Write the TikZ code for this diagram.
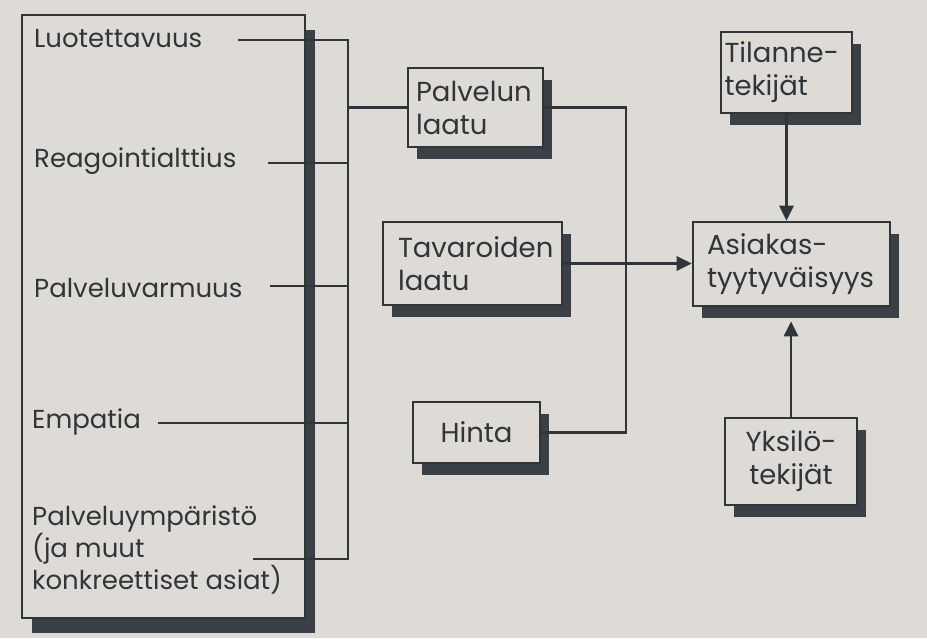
\documentclass[tikz,border=0pt]{standalone}
\usepackage{fontspec}
\setmainfont{Poppins}
\usetikzlibrary{arrows.meta,shadows,calc}
\definecolor{paper}{HTML}{DEDBD6}
\definecolor{ink}{HTML}{30353A}
\definecolor{shade}{HTML}{3A4046}
\begin{document}
\begin{tikzpicture}[x=1pt,y=-1pt,
  boxbase/.style={draw=ink, line width=2.6pt, fill=paper, text=ink,
    font=\fontsize{27.5}{33}\selectfont, inner sep=0pt},
  box/.style={boxbase, drop shadow={shadow xshift=9pt, shadow yshift=-12pt, fill=shade, opacity=1}},
  bigbox/.style={boxbase, drop shadow={shadow xshift=10pt, shadow yshift=-15pt, fill=shade, opacity=1}},
  lab/.style={anchor=west, text=ink, font=\fontsize{26}{28}\selectfont, inner sep=0pt, align=left},
  conn/.style={draw=ink, line width=2.8pt},
  arr/.style={conn, -{Triangle[length=15pt,width=14pt]}}]
\fill[paper] (0,0) rectangle (927,638);
\useasboundingbox (0,0) rectangle (927,638);

% big frame
\node[bigbox, minimum width=283pt, minimum height=603pt] (frame) at (163.5,316.5) {};

% labels
\node[lab] (l1) at (34,39) {Luotettavuus};
\node[lab] (l2) at (34,161) {Reagointialttius};
\node[lab] (l3) at (34,288) {Palveluvarmuus};
\node[lab] (l4) at (32,422) {Empatia};
\node[lab] (l5) at (32,550) {Palveluympäristö\\(ja muut\\konkreettiset asiat)};

% boxes
\node[box, text width=119pt, inner xsep=8pt, minimum height=79pt, align=left] (pal) at (475.5,107.5) {Palvelun\\laatu};
\node[box, text width=149pt, inner xsep=15pt, minimum height=83pt, align=left] (tav) at (472.5,263.5) {Tavaroiden\\laatu};
\node[box, minimum width=127pt, minimum height=61pt, align=center] (hin) at (476.5,432.5) {Hinta};
\node[box, text width=169pt, inner xsep=14pt, minimum height=84pt, align=left] (asi) at (791.5,264) {Asiakas-\\tyytyväisyys};
\node[box, text width=124pt, inner xsep=3.5pt, minimum height=81pt, align=left] (til) at (786.5,72.5) {Tilanne-\\tekijät};
\node[box, text width=132pt, minimum height=87pt, align=center] (yks) at (791,461.5) {Yksilö-\\tekijät};

% connector coordinates
\coordinate (s1) at (238,40);
\coordinate (s2) at (268,163);
\coordinate (s3) at (270,286);
\coordinate (s4) at (158,423);
\coordinate (s5) at (253,559);
\coordinate (b1) at (348,40);
\coordinate (b5) at (348,559);
\coordinate (rb) at (626,0);

\draw[conn] (s1) -- (b1) -- (b5) -- (s5);
\draw[conn] (s2) -- (s2 -| b1);
\draw[conn] (s3) -- (s3 -| b1);
\draw[conn] (s4) -- (s4 -| b1);
\draw[conn] (pal.west -| b1) -- (pal.west);

\draw[conn] (pal.east) -- (pal.east -| rb) -- (hin.east -| rb) -- (hin.east);
\draw[arr] (tav.east) -- (tav.east -| asi.west);
\draw[arr] (til.south) -- (til.south |- asi.north);
\draw[arr] (yks.north) -- ($(yks.north |- asi.south)+(0,14)$);
\end{tikzpicture}
\end{document}
